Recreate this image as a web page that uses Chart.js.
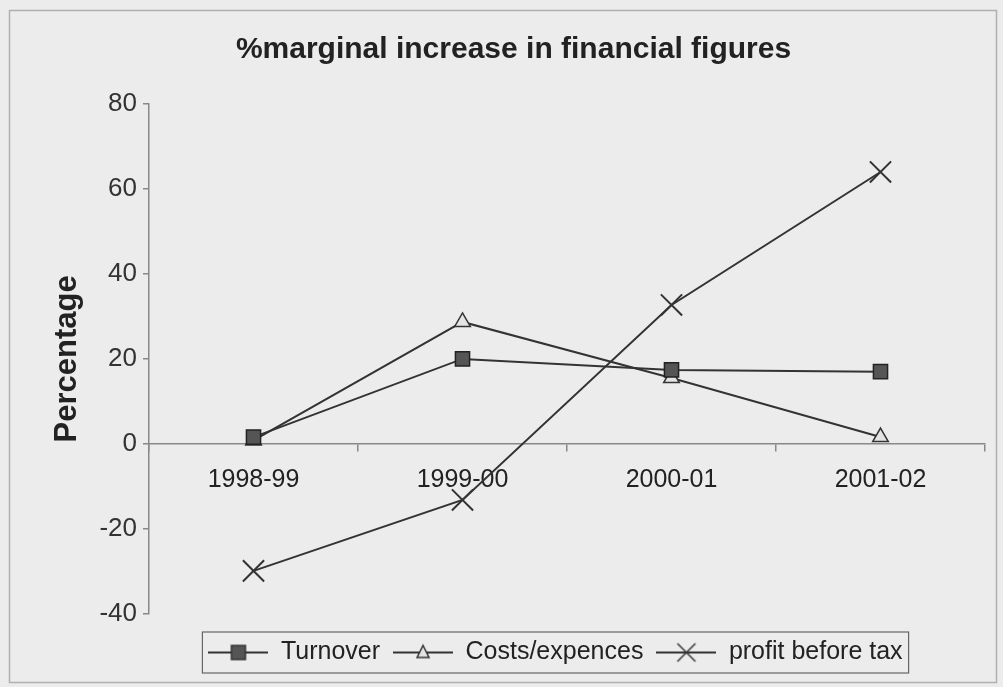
<!DOCTYPE html>
<html>
<head>
<meta charset="utf-8">
<script src="https://cdn.jsdelivr.net/npm/chart.js@4.4.1/dist/chart.umd.min.js"></script>
<style>
  body { margin: 0; background: #ececec; }
  #wrap { width: 1003px; height: 687px; }
</style>
</head>
<body>
<div id="wrap"><canvas id="myChart"></canvas></div>
<script>
const categories = ['1998-99', '1999-00', '2000-01', '2001-02'];
const turnover = [1.6, 20, 17.4, 17];
const costs = [0.8, 28.7, 15.5, 1.6];
const profit = [-29.9, -13.2, 32.7, 64];
const yMin = -40, yMax = 80, yStep = 20;

const FONT = '"Liberation Sans", Arial, sans-serif';
const LINE = '#333333';

// small legend icons: line with the marker in the middle
function legendIcon(kind) {
    let c = document.createElement('canvas');
    c.width = 60;
    c.height = 24;
    let ctx = c.getContext('2d');
    ctx.strokeStyle = LINE;
    ctx.lineWidth = 2;
    ctx.beginPath();
    ctx.moveTo(0, 12);
    ctx.lineTo(60, 12);
    ctx.stroke();
    ctx.lineWidth = 1.5;
    if (kind === 'rect') {
        ctx.fillStyle = '#555555';
        ctx.fillRect(23, 5, 14, 14);
        ctx.strokeRect(23, 5, 14, 14);
    } else if (kind === 'triangle') {
        ctx.fillStyle = '#e4e4e4';
        ctx.beginPath();
        ctx.moveTo(30, 5);
        ctx.lineTo(36, 17);
        ctx.lineTo(24, 17);
        ctx.closePath();
        ctx.fill();
        ctx.stroke();
    } else {
        ctx.beginPath();
        ctx.moveTo(21, 3); ctx.lineTo(39, 21);
        ctx.moveTo(39, 3); ctx.lineTo(21, 21);
        ctx.stroke();
    }
    return c;
}

const icons = [legendIcon('rect'), legendIcon('triangle'), legendIcon('cross')];

const background = {
    id: 'background',
    beforeDraw(chart) {
        let ctx = chart.ctx;
        ctx.save();
        ctx.fillStyle = '#ececec';
        ctx.fillRect(0, 0, chart.width, chart.height);
        ctx.strokeStyle = '#b0b0b0';
        ctx.lineWidth = 1.5;
        ctx.strokeRect(9.5, 10.5, 987, 672);
        ctx.restore();
    }
};

// the original has title and legend a bit right of centre
const shiftBlocks = {
    id: 'shiftBlocks',
    afterLayout(chart) {
        if (chart.titleBlock) {
            chart.titleBlock.left += 11;
            chart.titleBlock.right += 11;
        }
        if (chart.legend) {
            chart.legend.left += 53;
            chart.legend.right += 53;
        }
    }
};

const legendFrame = {
    id: 'legendFrame',
    afterDraw(chart) {
        let boxes = chart.legend.legendHitBoxes;
        if (!boxes || !boxes.length) return;
        let left = boxes[0].left - 6;
        let right = boxes[boxes.length - 1].left + boxes[boxes.length - 1].width + 6;
        let top = boxes[0].top - 8;
        let bottom = boxes[0].top + boxes[0].height + 8;
        let ctx = chart.ctx;
        ctx.save();
        ctx.strokeStyle = '#666666';
        ctx.lineWidth = 1.2;
        ctx.strokeRect(left, top, right - left, bottom - top);
        ctx.restore();
    }
};

const data = {
    labels: categories,
    datasets: [
        {
            label: 'Turnover',
            data: turnover,
            borderColor: LINE,
            borderWidth: 2,
            pointStyle: 'rect',
            pointRadius: 10,
            pointBackgroundColor: '#555555',
            pointBorderColor: '#222222',
            pointBorderWidth: 1.5
        },
        {
            label: 'Costs/expences',
            data: costs,
            borderColor: LINE,
            borderWidth: 2,
            pointStyle: 'triangle',
            pointRadius: 9,
            pointBackgroundColor: '#e4e4e4',
            pointBorderColor: '#333333',
            pointBorderWidth: 1.5
        },
        {
            label: 'profit before tax',
            data: profit,
            borderColor: LINE,
            borderWidth: 2,
            pointStyle: 'crossRot',
            pointRadius: 15,
            pointBorderColor: '#333333',
            pointBorderWidth: 2
        }
    ]
};

const config = {
    type: 'line',
    data: data,
    plugins: [background, shiftBlocks, legendFrame],
    options: {
        responsive: true,
        maintainAspectRatio: false,
        animation: false,
        layout: { padding: { left: 20, right: 18, top: 0, bottom: 12 } },
        plugins: {
            title: {
                display: true,
                text: '%marginal increase in financial figures',
                color: '#222222',
                font: { family: FONT, size: 30, weight: 'bold' },
                padding: { top: 32, bottom: 36 }
            },
            legend: {
                position: 'bottom',
                title: {
                    display: true,
                    text: ' ',
                    font: { size: 1 },
                    padding: 6
                },
                labels: {
                    color: '#222222',
                    font: { family: FONT, size: 25 },
                    usePointStyle: true,
                    pointStyleWidth: 60,
                    padding: 13,
                    generateLabels(chart) {
                        return chart.data.datasets.map(function (ds, i) {
                            return {
                                text: ds.label,
                                pointStyle: icons[i],
                                fillStyle: 'transparent',
                                strokeStyle: 'transparent',
                                lineWidth: 0,
                                datasetIndex: i,
                                fontColor: '#222222'
                            };
                        });
                    }
                }
            },
            tooltip: { enabled: false }
        },
        scales: {
            x: {
                type: 'category',
                position: { y: 0 },
                offset: true,
                grid: {
                    offset: true,
                    drawOnChartArea: false,
                    drawTicks: true,
                    tickLength: 7,
                    color: '#888888',
                    lineWidth: 1.5
                },
                border: { display: true, color: '#888888', width: 1.5 },
                ticks: {
                    color: '#222222',
                    font: { family: FONT, size: 25 },
                    padding: 14,
                    maxRotation: 0
                },
                afterFit(scale) {
                    scale.height = 0;
                }
            },
            y: {
                min: yMin,
                max: yMax,
                grid: {
                    drawOnChartArea: false,
                    drawTicks: true,
                    tickLength: 6,
                    color: '#888888',
                    lineWidth: 1.5
                },
                border: { display: true, color: '#888888', width: 1.5 },
                ticks: {
                    stepSize: yStep,
                    color: '#333333',
                    font: { family: FONT, size: 26 },
                    padding: 6
                },
                title: {
                    display: true,
                    text: 'Percentage',
                    color: '#222222',
                    font: { family: FONT, size: 31, weight: 'bold' },
                    padding: { top: 29, bottom: 6 }
                },
                afterFit(scale) {
                    scale.width = 129;
                }
            }
        }
    }
};

const myChart = new Chart(document.getElementById('myChart'), config);
</script>
</body>
</html>
